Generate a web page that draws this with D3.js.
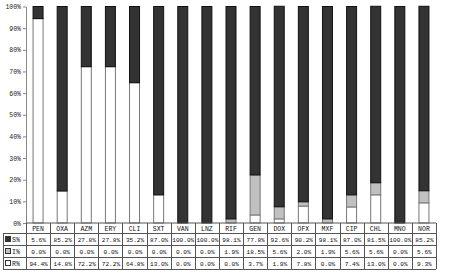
<!DOCTYPE html>
<html><head><meta charset="utf-8">
<script src="https://cdn.jsdelivr.net/npm/d3@7"></script>
<style>body{margin:0;background:#fff}svg{display:block}text{font-family:"Liberation Mono","DejaVu Sans Mono",monospace}</style>
</head><body><svg id="c" width="454" height="273"></svg>
<script>
const categories=["PEN","OXA","AZM","ERY","CLI","SXT","VAN","LNZ","RIF","GEN","DOX","OFX","MXF","CIP","CHL","MNO","NOR"];
const seriesNames=["S%","I%","R%"];
const S=[5.6,85.2,27.8,27.8,35.2,87.0,100.0,100.0,98.1,77.8,92.6,90.2,98.1,87.0,81.5,100.0,85.2];
const I=[0,0,0,0,0,0,0,0,1.9,18.5,5.6,2.0,1.9,5.6,5.6,0,5.6];
const R=[94.4,14.8,72.2,72.2,64.8,13.0,0,0,0,3.7,1.9,7.8,0,7.4,13.0,0,9.3];
const yTicks=[0,10,20,30,40,50,60,70,80,90,100];

(function(){
const svg=d3.select("#c");
const pL=26,pR=436,pT=6.5,pB=223;
const x=d3.scaleBand().domain(categories).range([pL,pR]).paddingInner(0).paddingOuter(0);
const y=d3.scaleLinear().domain([0,100]).range([pB,pT]);
const fills={"S%":"#333333","I%":"#c0c0c0","R%":"#ffffff"};
const strokes={"S%":"#111","I%":"#777","R%":"#777"};
const data=categories.map((c,i)=>({cat:c,"S%":S[i],"I%":I[i],"R%":R[i]}));
const stack=d3.stack().keys(["R%","I%","S%"]);
const layers=stack(data);
const bw=11;
layers.forEach(L=>{
  svg.append("g").selectAll("rect").data(L.filter(d=>d[1]-d[0]>0)).join("rect")
    .attr("x",d=>x(d.data.cat)+x.bandwidth()/2-bw/2+0.5)
    .attr("width",bw-1)
    .attr("y",d=>y(d[1]))
    .attr("height",d=>y(d[0])-y(d[1]))
    .attr("fill",fills[L.key]).attr("stroke",strokes[L.key]).attr("stroke-width",1);
});
const ax=svg.append("g").attr("transform",`translate(${pL},0)`).call(d3.axisLeft(y).tickValues(yTicks).tickFormat(d=>d+"%").tickSize(3).tickSizeOuter(0));
ax.select(".domain").attr("stroke","#888");
ax.selectAll(".tick line").attr("stroke","#888");
ax.selectAll(".tick text").attr("font-size",6.5).attr("fill","#222").attr("x",-5);
const rowY=[223,233,245,257,269];
const tg=svg.append("g").attr("stroke","#555").attr("stroke-width",1).attr("fill","none");
tg.append("line").attr("x1",pL).attr("x2",pR).attr("y1",rowY[0]).attr("y2",rowY[0]);
for(let r=1;r<rowY.length;r++) tg.append("line").attr("x1",3).attr("x2",pR).attr("y1",rowY[r]+0.5).attr("y2",rowY[r]+0.5);
categories.forEach(c=>{tg.append("line").attr("x1",Math.round(x(c))+0.5).attr("x2",Math.round(x(c))+0.5).attr("y1",rowY[0]).attr("y2",rowY[4]);});
tg.append("line").attr("x1",pR+0.5).attr("x2",pR+0.5).attr("y1",rowY[0]).attr("y2",rowY[4]);
tg.append("line").attr("x1",3.5).attr("x2",3.5).attr("y1",rowY[1]).attr("y2",rowY[4]);
const txt=svg.append("g").attr("font-size",6.5).attr("fill","#111").attr("text-anchor","middle");
categories.forEach(c=>txt.append("text").attr("x",x(c)+x.bandwidth()/2).attr("y",rowY[1]-2.5).text(c));
const vals=[S,I,R];
seriesNames.forEach((s,r)=>{
  const yy=rowY[r+2]-3;
  categories.forEach((c,i)=>txt.append("text").attr("x",x(c)+x.bandwidth()/2+0.5).attr("y",yy).attr("font-size",6.1).text(vals[r][i].toFixed(1)+"%"));
  svg.append("rect").attr("x",5.5).attr("y",rowY[r+1]+3.5).attr("width",5).attr("height",5).attr("fill",fills[s]).attr("stroke","#333");
  svg.append("text").attr("x",12).attr("y",yy).attr("font-size",6.5).attr("fill","#111").text(s);
});
})();
</script></body></html>
